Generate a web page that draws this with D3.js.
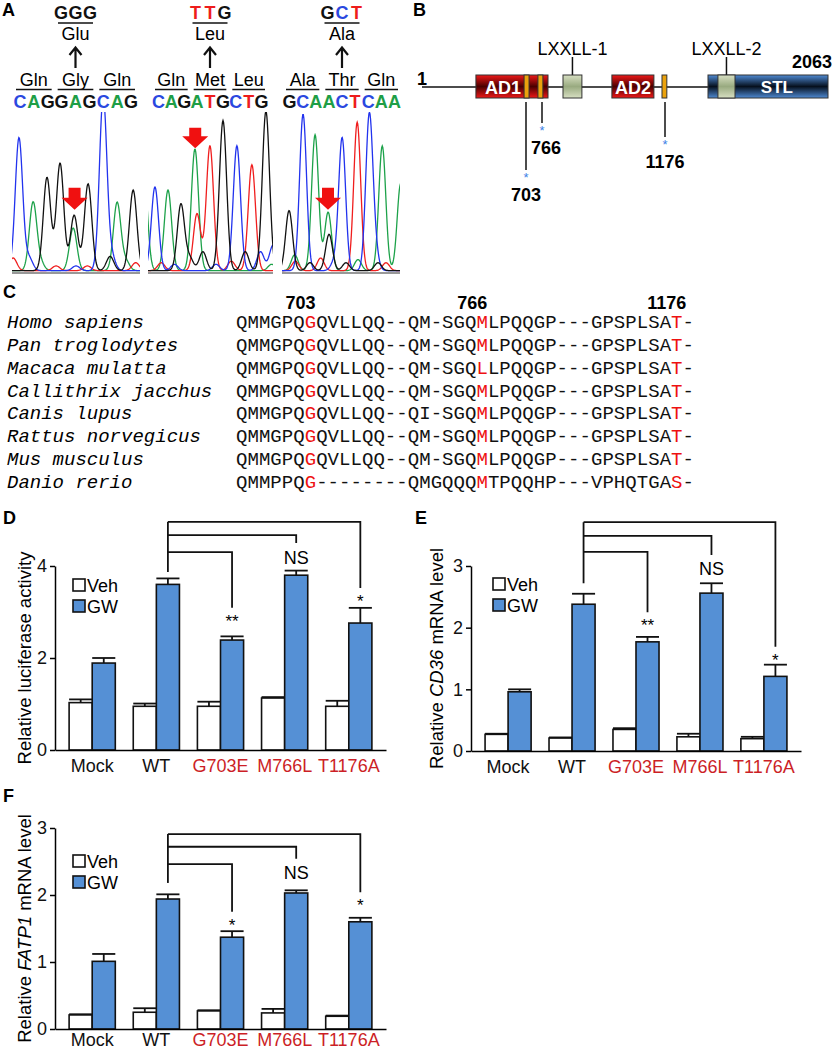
<!DOCTYPE html>
<html>
<head>
<meta charset="utf-8">
<script src="https://cdn.jsdelivr.net/npm/d3@7"></script>
<style>
body { margin: 0; background: #fff; }
svg { display: block; }
</style>
</head>
<body>
<div id="fig"></div>
<script>
'use strict';

// ---------- panel A: sequencing traces ----------
const codonsWT = ['CAGGAGCAG', 'CAGATGCTG', 'GCAACTCAA'];
const aminoWT = [['Gln', 'Gly', 'Gln'], ['Gln', 'Met', 'Leu'], ['Ala', 'Thr', 'Gln']];
const codonsMut = ['GGG', 'TTG', 'GCT'];
const aminoMut = ['Glu', 'Leu', 'Ala'];

// [base, position (in bases), height (% of full scale)]
const trace1Peaks = [
    ['C', 0.49, 84], ['A', 1.48, 43], ['G', 2.46, 59], ['G', 3.38, 68], ['G', 4.37, 35], ['A', 4.30, 27],
    ['G', 5.35, 55], ['C', 6.41, 110], ['A', 7.39, 43], ['G', 8.52, 51],
    ['T', 0.08, 8], ['C', 1.2, 8], ['A', 2.0, 5], ['T', 3.1, 3], ['C', 4.5, 3], ['T', 5.3, 3],
    ['G', 6.9, 9], ['C', 7.0, 9], ['A', 8.0, 6], ['T', 8.7, 5]
];
const trace2Peaks = [
    ['A', -0.3, 62], ['C', 0.5, 53], ['A', 1.44, 51], ['G', 2.37, 42], ['A', 3.38, 77], ['T', 3.53, 36],
    ['T', 4.46, 79], ['G', 5.4, 95], ['C', 6.4, 79], ['T', 7.48, 67], ['G', 8.49, 101], ['C', 9.0, 16],
    ['T', 0.95, 5], ['C', 1.9, 4], ['G', 3.0, 8], ['G', 3.95, 12], ['C', 4.9, 4], ['T', 6.0, 6],
    ['G', 7.0, 12], ['C', 8.1, 12], ['A', 8.9, 4]
];
const trace3Peaks = [
    ['G', 0.53, 38], ['C', 1.58, 99], ['A', 2.48, 86], ['A', 3.46, 37], ['G', 3.53, 23], ['C', 4.51, 84],
    ['T', 5.64, 94], ['C', 6.54, 96], ['A', 7.52, 79], ['A', 8.9, 55],
    ['A', 0.95, 10], ['T', 1.0, 6], ['G', 2.1, 5], ['T', 2.9, 8], ['C', 3.9, 5], ['G', 4.8, 5],
    ['A', 5.7, 7], ['C', 6.95, 14], ['T', 7.8, 5], ['G', 7.2, 5]
];
// red arrows: [position (bases), top, tip] (heights in %)
const arrowPos = [4.4, 3.4, 3.45];
const arrowTop = [54, 92, 54];
const arrowTip = [40, 79, 40];

// ---------- panel B: protein map ----------
const proteinEnds = [1, 2063];
const adDomains = [['AD1', 365, 786, 548], ['AD2', 999, 1139, 1069]];
const lxxllMotifs = [['LXXLL-1', 836, 899], ['LXXLL-2', 1464, 1557]];
const stlDomain = ['STL', 1410, 2063, 1785];
const sitesAA = [703, 766, 1176];
const siteMarks = [[690, 715], [750, 769], [1166, 1186]];
const siteDrop = [68, 21, 35];

// ---------- panel C: alignment ----------
const species = ['Homo sapiens', 'Pan troglodytes', 'Macaca mulatta', 'Callithrix jacchus',
    'Canis lupus', 'Rattus norvegicus', 'Mus musculus', 'Danio rerio'];
const sequences = [
    'QMMGPQGQVLLQQ--QM-SGQMLPQQGP---GPSPLSAT-',
    'QMMGPQGQVLLQQ--QM-SGQMLPQQGP---GPSPLSAT-',
    'QMMGPQGQVLLQQ--QM-SGQLLPQQGP---GPSPLSAT-',
    'QMMGPQGQVLLQQ--QM-SGQMLPQQGP---GPSPLSAT-',
    'QMMGPQGQVLLQQ--QI-SGQMLPQQGP---GPSPLSAT-',
    'QMMGPQGQVLLQQ--QM-SGQMLPQQGP---GPSPLSAT-',
    'QMMGPQGQVLLQQ--QM-SGQMLPQQGP---GPSPLSAT-',
    'QMMPPQG--------QMGQQQMTPQQHP---VPHQTGAS-'
];
const siteColumns = [6, 21, 38];
const siteLabels = ['703', '766', '1176'];

// ---------- panels D-F: bar charts ----------
const groups = ['Mock', 'WT', 'G703E', 'M766L', 'T1176A'];
const mutants = ['G703E', 'M766L', 'T1176A'];
const treatments = ['Veh', 'GW'];

const lucVeh = [1.03, 0.95, 0.95, 1.13, 0.95];
const lucVehErr = [0.07, 0.06, 0.1, 0.02, 0.12];
const lucGW = [1.89, 3.6, 2.39, 3.8, 2.76];
const lucGWErr = [0.11, 0.13, 0.08, 0.1, 0.33];
const lucSig = ['**', 'NS', '*'];

const cd36Veh = [0.27, 0.21, 0.35, 0.23, 0.2];
const cd36VehErr = [0.01, 0.01, 0.02, 0.05, 0.03];
const cd36GW = [0.96, 2.38, 1.77, 2.56, 1.21];
const cd36GWErr = [0.04, 0.17, 0.08, 0.16, 0.19];
const cd36Sig = ['**', 'NS', '*'];

const fatp1Veh = [0.21, 0.25, 0.27, 0.24, 0.19];
const fatp1VehErr = [0.01, 0.06, 0.01, 0.06, 0.01];
const fatp1GW = [1.01, 1.94, 1.37, 2.03, 1.6];
const fatp1GWErr = [0.11, 0.07, 0.09, 0.04, 0.06];
const fatp1Sig = ['*', 'NS', '*'];

const FONT = 'Liberation Sans, Arial, sans-serif';
const MONO = 'Liberation Mono, Courier New, monospace';
const baseColor = {A: '#1da24a', C: '#2233ee', G: '#111', T: '#f01e1e'};
const textBaseColor = {A: '#1e9e46', C: '#2a48e0', G: '#111', T: '#ee1c1c'};
const barBlue = '#5590d5';
const mutRed = '#cc1f26';

const svg = d3.select('#fig').append('svg')
    .attr('width', 833)
    .attr('height', 1050)
    .style('font-family', FONT);

const defs = svg.append('defs');

function vGradient(id, edge, mid) {
    const gr = defs.append('linearGradient').attr('id', id)
        .attr('x1', 0).attr('y1', 0).attr('x2', 0).attr('y2', 1);
    gr.append('stop').attr('offset', '0%').attr('stop-color', edge);
    gr.append('stop').attr('offset', '50%').attr('stop-color', mid);
    gr.append('stop').attr('offset', '100%').attr('stop-color', edge);
}
vGradient('gRed', '#f01818', '#4a0000');
vGradient('gBlue', '#4f8ad3', '#06101e');
vGradient('gGreen', '#d7dfc2', '#99aa80');

// panel letters
const panelLetters = ['A', 'B', 'C', 'D', 'E', 'F'];
const panelPos = [[2, 16], [413, 16], [3, 298], [3, 524], [415, 524], [3, 802]];
svg.append('g').selectAll('text')
    .data(panelLetters)
    .join('text')
    .attr('x', (d, i) => panelPos[i][0])
    .attr('y', (d, i) => panelPos[i][1])
    .attr('font-size', 18)
    .attr('font-weight', 'bold')
    .text(d => d);

// ================= panel A =================
const traceBoxes = [[12, 140], [148, 273], [282, 400]];
const letterRanges = [[13, 138], [152, 268], [283, 401]];
const allPeaks = [trace1Peaks, trace2Peaks, trace3Peaks];
const yTrace = d3.scaleLinear().domain([0, 100]).range([273, 115]);

allPeaks.forEach((peaks, k) => {
    const [x0, x1] = traceBoxes[k];
    const xt = d3.scaleLinear().domain([0, 9]).range([x0, x0 + (k === 0 ? 128 : (k === 1 ? 125 : 120))]);
    const g = svg.append('g');
    defs.append('clipPath').attr('id', 'clipT' + k)
        .append('rect').attr('x', x0).attr('y', 112).attr('width', x1 - x0).attr('height', 162);
    const plot = g.append('g').attr('clip-path', `url(#clipT${k})`);
    const sigma = 0.26;
    const samples = d3.range(-0.6, 9.6, 0.04);
    ['A', 'T', 'C', 'G'].forEach(b => {
        const mine = peaks.filter(p => p[0] === b);
        const pts = samples.map(s => [s, 1.5 + d3.sum(mine, p => p[2] * Math.exp(-((s - p[1]) ** 2) / (2 * sigma * sigma)))]);
        plot.append('path')
            .datum(pts)
            .attr('fill', 'none')
            .attr('stroke', baseColor[b])
            .attr('stroke-width', 1.3)
            .attr('d', d3.line().x(d => xt(d[0])).y(d => yTrace(d[1])));
    });
    g.append('line')
        .attr('x1', x0).attr('x2', x1)
        .attr('y1', yTrace(0)).attr('y2', yTrace(0))
        .attr('stroke', '#333').attr('stroke-width', 1.2);

    // red arrow
    const ax = xt(arrowPos[k]);
    const top = yTrace(arrowTop[k]);
    const tip = yTrace(arrowTip[k]);
    const headTop = tip - 12;
    g.append('path')
        .attr('fill', '#f01010')
        .attr('d', `M${ax - 6},${top} L${ax + 6},${top} L${ax + 6},${headTop} L${ax + 13},${headTop} ` +
            `L${ax},${tip} L${ax - 13},${headTop} L${ax - 6},${headTop} Z`);

    // codon letters and amino acids
    const xl = d3.scaleLinear().domain([0, 9]).range(letterRanges[k]);
    svg.append('g').selectAll('text')
        .data(codonsWT[k].split(''))
        .join('text')
        .attr('x', (d, i) => xl(i + 0.5))
        .attr('y', 108)
        .attr('text-anchor', 'middle')
        .attr('font-size', 18)
        .attr('font-weight', 'bold')
        .attr('fill', d => textBaseColor[d])
        .text(d => d);
    const aa = svg.append('g');
    aa.selectAll('text')
        .data(aminoWT[k])
        .join('text')
        .attr('x', (d, i) => xl(i * 3 + 1.5))
        .attr('y', 86)
        .attr('text-anchor', 'middle')
        .attr('font-size', 18)
        .text(d => d);
    aa.selectAll('line')
        .data(aminoWT[k])
        .join('line')
        .attr('x1', (d, i) => xl(i * 3) + 3)
        .attr('x2', (d, i) => xl(i * 3 + 3) - 3)
        .attr('y1', 89.5).attr('y2', 89.5)
        .attr('stroke', '#111').attr('stroke-width', 1.6);

    // mutant codon above
    const mx = xl(4.5);
    aa.append('path')
        .attr('fill', 'none').attr('stroke', '#111').attr('stroke-width', 2.2)
        .attr('d', `M${mx},68 L${mx},48 M${mx - 6},55 L${mx},47.5 L${mx + 6},55`);
    aa.append('text')
        .attr('x', mx).attr('y', 40)
        .attr('text-anchor', 'middle').attr('font-size', 18)
        .text(aminoMut[k]);
    aa.append('line')
        .attr('x1', mx - 17.5).attr('x2', mx + 17.5)
        .attr('y1', 23).attr('y2', 23)
        .attr('stroke', '#111').attr('stroke-width', 1.6);
    aa.append('g').selectAll('text')
        .data(codonsMut[k].split(''))
        .join('text')
        .attr('x', (d, i) => mx + (i - 1) * 14.5)
        .attr('y', 18.5)
        .attr('text-anchor', 'middle')
        .attr('font-size', 18)
        .attr('font-weight', 'bold')
        .attr('fill', d => textBaseColor[d])
        .text(d => d);
});

// ================= panel B =================
const xp = d3.scaleLinear()
    .domain([proteinEnds[0], sitesAA[0], sitesAA[1], sitesAA[2], proteinEnds[1]])
    .range([422, 526, 542, 665, 828]);
const pB = svg.append('g');
const boxTop = 75, boxH = 23, midY = 87;

pB.append('line')
    .attr('x1', xp(proteinEnds[0])).attr('x2', xp(stlDomain[1]))
    .attr('y1', midY).attr('y2', midY)
    .attr('stroke', '#111').attr('stroke-width', 1.5);

pB.append('rect')
    .attr('x', xp(stlDomain[1])).attr('y', boxTop)
    .attr('width', xp(stlDomain[2]) - xp(stlDomain[1])).attr('height', boxH)
    .attr('fill', 'url(#gBlue)').attr('stroke', '#333').attr('stroke-width', 1);
pB.append('text')
    .attr('x', xp(stlDomain[3])).attr('y', midY + 6)
    .attr('text-anchor', 'middle').attr('fill', '#fff')
    .attr('font-size', 17).attr('font-weight', 'bold')
    .text(stlDomain[0]);

pB.selectAll('rect.ad')
    .data(adDomains)
    .join('rect')
    .attr('class', 'ad')
    .attr('x', d => xp(d[1])).attr('y', boxTop)
    .attr('width', d => xp(d[2]) - xp(d[1])).attr('height', boxH)
    .attr('fill', 'url(#gRed)').attr('stroke', '#333').attr('stroke-width', 1);
pB.selectAll('text.ad')
    .data(adDomains)
    .join('text')
    .attr('class', 'ad')
    .attr('x', d => xp(d[3])).attr('y', midY + 6.5)
    .attr('text-anchor', 'middle').attr('fill', '#fff')
    .attr('font-size', 18).attr('font-weight', 'bold')
    .text(d => d[0]);

pB.selectAll('rect.mark')
    .data(siteMarks)
    .join('rect')
    .attr('class', 'mark')
    .attr('x', d => xp(d[0])).attr('y', boxTop)
    .attr('width', d => xp(d[1]) - xp(d[0])).attr('height', boxH)
    .attr('fill', '#eba20c').attr('stroke', '#333').attr('stroke-width', 1);

pB.selectAll('line.stem')
    .data(lxxllMotifs)
    .join('line')
    .attr('class', 'stem')
    .attr('x1', d => xp((d[1] + d[2]) / 2)).attr('x2', d => xp((d[1] + d[2]) / 2))
    .attr('y1', boxTop).attr('y2', 57)
    .attr('stroke', '#111').attr('stroke-width', 1.5);
pB.selectAll('rect.lx')
    .data(lxxllMotifs)
    .join('rect')
    .attr('class', 'lx')
    .attr('x', d => xp(d[1])).attr('y', boxTop)
    .attr('width', d => xp(d[2]) - xp(d[1])).attr('height', boxH)
    .attr('fill', 'url(#gGreen)').attr('stroke', '#333').attr('stroke-width', 1);
pB.selectAll('text.lx')
    .data(lxxllMotifs)
    .join('text')
    .attr('class', 'lx')
    .attr('x', d => xp((d[1] + d[2]) / 2)).attr('y', 54.5)
    .attr('text-anchor', 'middle').attr('font-size', 18)
    .text(d => d[0]);

pB.append('text')
    .attr('x', xp(proteinEnds[0])).attr('y', 84.5)
    .attr('text-anchor', 'middle').attr('font-size', 18).attr('font-weight', 'bold')
    .text(proteinEnds[0]);
pB.append('text')
    .attr('x', 832).attr('y', 67.5)
    .attr('text-anchor', 'end').attr('font-size', 18).attr('font-weight', 'bold')
    .text(proteinEnds[1]);

const siteG = pB.selectAll('g.site')
    .data(sitesAA)
    .join('g')
    .attr('class', 'site');
siteG.append('line')
    .attr('x1', d => xp(d)).attr('x2', d => xp(d))
    .attr('y1', 102).attr('y2', (d, i) => 102 + siteDrop[i])
    .attr('stroke', '#111').attr('stroke-width', 1.5);
siteG.append('text')
    .attr('x', d => xp(d)).attr('y', (d, i) => 102 + siteDrop[i] + 12)
    .attr('text-anchor', 'middle').attr('font-size', 13).attr('fill', '#3d7fe6')
    .text('*');
siteG.append('text')
    .attr('x', (d, i) => xp(d) + (i === 1 ? 4 : 0)).attr('y', (d, i) => 102 + siteDrop[i] + 31)
    .attr('text-anchor', 'middle').attr('font-size', 18).attr('font-weight', 'bold')
    .text(d => d);

// ================= panel C =================
const pC = svg.append('g');
const rowY = d3.scalePoint().domain(species).range([322, 482]);
const col = d3.scaleLinear().domain([0, 40]).range([236, 236 + 40 * 11.45]);

pC.selectAll('text.sp')
    .data(species)
    .join('text')
    .attr('class', 'sp')
    .attr('x', 7)
    .attr('y', d => rowY(d) + 6)
    .attr('font-family', MONO)
    .attr('font-style', 'italic')
    .attr('font-size', 19)
    .text(d => d);

sequences.forEach((seq, r) => {
    pC.append('g').selectAll('text')
        .data(seq.split(''))
        .join('text')
        .attr('x', (d, i) => col(i + 0.5))
        .attr('y', rowY(species[r]) + 6)
        .attr('text-anchor', 'middle')
        .attr('font-family', MONO)
        .attr('font-size', 19)
        .attr('fill', (d, i) => siteColumns.includes(i) ? '#ee1111' : '#111')
        .text(d => d);
});
pC.selectAll('text.col')
    .data(siteLabels)
    .join('text')
    .attr('class', 'col')
    .attr('x', (d, i) => col(siteColumns[i] + 0.5) - 10)
    .attr('y', 308.5)
    .attr('text-anchor', 'middle')
    .attr('font-size', 18)
    .attr('font-weight', 'bold')
    .text(d => d);

// ================= panels D-F =================
function drawBars(o) {
    const g = svg.append('g');
    const x = d3.scaleBand().domain(groups).range([o.left, o.right]).paddingInner(0.28).paddingOuter(0.22);
    const xs = d3.scaleBand().domain(treatments).range([0, x.bandwidth()]);
    const y = d3.scaleLinear().domain([0, o.ymax]).range([o.bottom, o.top]);

    const bars = groups.flatMap((grp, i) => [
        {grp: grp, t: 'Veh', v: o.veh[i], e: o.vehErr[i]},
        {grp: grp, t: 'GW', v: o.gw[i], e: o.gwErr[i]}
    ]);
    const bx = d => x(d.grp) + xs(d.t);

    g.append('g')
        .attr('stroke', '#111')
        .attr('stroke-width', 1.8)
        .selectAll('line.err')
        .data(bars)
        .join('line')
        .attr('x1', d => bx(d) + xs.bandwidth() / 2)
        .attr('x2', d => bx(d) + xs.bandwidth() / 2)
        .attr('y1', d => y(d.v))
        .attr('y2', d => y(d.v + d.e));
    g.append('g')
        .attr('stroke', '#111')
        .attr('stroke-width', 1.8)
        .selectAll('line.cap')
        .data(bars)
        .join('line')
        .attr('x1', d => bx(d))
        .attr('x2', d => bx(d) + xs.bandwidth())
        .attr('y1', d => y(d.v + d.e))
        .attr('y2', d => y(d.v + d.e));
    g.append('g')
        .selectAll('rect')
        .data(bars)
        .join('rect')
        .attr('x', d => bx(d))
        .attr('y', d => y(d.v))
        .attr('width', xs.bandwidth())
        .attr('height', d => y(0) - y(d.v))
        .attr('fill', d => d.t === 'GW' ? barBlue : '#fff')
        .attr('stroke', '#111')
        .attr('stroke-width', 1.6);

    // axes
    const ya = g.append('g')
        .attr('transform', `translate(${o.left},0)`)
        .call(d3.axisLeft(y).tickValues(o.ticks).tickFormat(d3.format('d')).tickSize(5).tickSizeOuter(0).tickPadding(3));
    ya.select('.domain').attr('stroke-width', 1.5);
    ya.selectAll('.tick line').attr('stroke-width', 1.5);
    ya.selectAll('text').attr('font-size', 18).attr('font-family', FONT).attr('fill', '#111');

    const xa = g.append('g')
        .attr('transform', `translate(0,${o.bottom})`)
        .call(d3.axisBottom(x).tickSize(0).tickSizeOuter(0).tickPadding(o.xPad));
    xa.select('.domain').attr('stroke-width', 1.5);
    xa.selectAll('text')
        .attr('font-size', 18)
        .attr('font-family', FONT)
        .attr('fill', d => mutants.includes(d) ? mutRed : '#111');

    // y label
    const lab = g.append('text')
        .attr('transform', `translate(${o.labelX},${(o.bottom + o.top) / 2}) rotate(-90)`)
        .attr('text-anchor', 'middle')
        .attr('font-size', 18.5);
    o.label.forEach(part => lab.append('tspan').attr('font-style', part[1] ? 'italic' : 'normal').text(part[0]));

    // significance brackets vs WT
    const wx = x('WT') + xs('GW') + xs.bandwidth() / 2;
    const br = g.append('g').attr('fill', 'none').attr('stroke', '#111').attr('stroke-width', 1.8);
    br.append('line')
        .attr('x1', wx).attr('x2', wx)
        .attr('y1', y(o.levels[2])).attr('y2', y(o.leftEnd));
    mutants.forEach((m, i) => {
        const mx = x(m) + xs('GW') + xs.bandwidth() / 2;
        br.append('path')
            .attr('d', `M${wx},${y(o.levels[i])} H${mx} V${y(o.legEnds[i])}`);
        g.append('text')
            .attr('x', mx)
            .attr('y', y(o.legEnds[i]) + (o.sig[i] === 'NS' ? 20.5 : 19))
            .attr('text-anchor', 'middle')
            .attr('font-size', o.sig[i] === 'NS' ? 18 : 17)
            .text(o.sig[i]);
    });

    // legend
    const lg = g.append('g');
    treatments.forEach((t, i) => {
        lg.append('rect')
            .attr('x', o.legend[0]).attr('y', o.legend[1] + i * 21)
            .attr('width', 12).attr('height', 12)
            .attr('fill', t === 'GW' ? barBlue : '#fff')
            .attr('stroke', '#111').attr('stroke-width', 1.6);
        lg.append('text')
            .attr('x', o.legend[0] + 14).attr('y', o.legend[1] + i * 21 + 12.5)
            .attr('font-size', 18)
            .text(t);
    });
}

drawBars({
    left: 55, right: 386, bottom: 750, top: 566, ymax: 4, ticks: [0, 2, 4], xPad: 9,
    veh: lucVeh, vehErr: lucVehErr, gw: lucGW, gwErr: lucGWErr, sig: lucSig,
    levels: [4.3, 4.67, 4.96], legEnds: [3.09, 4.5, 3.52], leftEnd: 3.87,
    legend: [73, 579], labelX: 31,
    label: [['Relative luciferase activity', false]]
});
drawBars({
    left: 471, right: 801, bottom: 751, top: 566, ymax: 3, ticks: [0, 1, 2, 3], xPad: 9,
    veh: cd36Veh, vehErr: cd36VehErr, gw: cd36GW, gwErr: cd36GWErr, sig: cd36Sig,
    levels: [3.23, 3.49, 3.71], legEnds: [2.25, 3.18, 1.69], leftEnd: 2.72,
    legend: [493, 578], labelX: 443,
    label: [['Relative ', false], ['CD36', true], [' mRNA level', false]]
});
drawBars({
    left: 55, right: 386, bottom: 1029, top: 828, ymax: 3, ticks: [0, 1, 2, 3], xPad: 4.5,
    veh: fatp1Veh, vehErr: fatp1VehErr, gw: fatp1GW, gwErr: fatp1GWErr, sig: fatp1Sig,
    levels: [2.46, 2.72, 2.91], legEnds: [1.75, 2.54, 2.04], leftEnd: 2.18,
    legend: [73, 855], labelX: 31,
    label: [['Relative ', false], ['FATP1', true], [' mRNA level', false]]
});
</script>
</body>
</html>
